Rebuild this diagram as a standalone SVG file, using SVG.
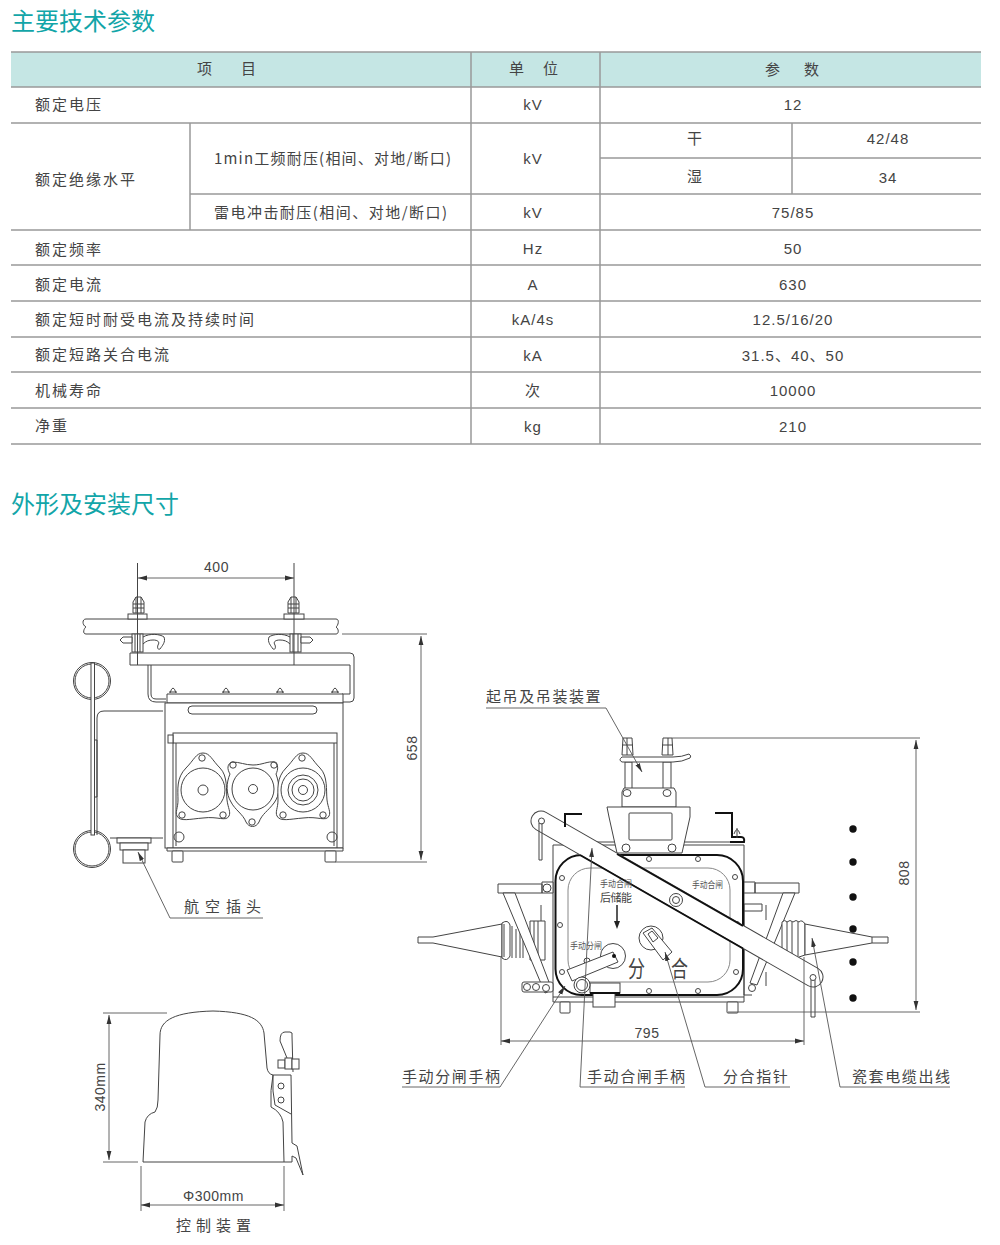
<svg xmlns="http://www.w3.org/2000/svg" width="1000" height="1245" viewBox="0 0 1000 1245">
<style>
text{font-family:"Noto Sans CJK SC","Liberation Sans",sans-serif;fill:#444}
.h{font-size:24px;fill:#12a5a8}
.t{font-size:15px;letter-spacing:2px}
.n{font-family:"Liberation Sans","Noto Sans CJK SC",sans-serif;font-size:15px;text-anchor:middle;letter-spacing:1px}
.d{font-family:"Liberation Sans",sans-serif;font-size:14px;text-anchor:middle;letter-spacing:.5px}
.l{font-size:15px}
.l2{font-size:15px;letter-spacing:1.6px}
.s{font-size:9px;fill:#555}
.tl{stroke:#999;stroke-width:1.5;fill:none}
.o{fill:#fff;stroke:#444;stroke-width:1}
.w{fill:none;stroke:#444;stroke-width:1}
.g{fill:none;stroke:#888;stroke-width:1}
.b{fill:none;stroke:#111;stroke-width:2}
.ln{fill:none;stroke:#555;stroke-width:.9}
.ar{fill:none;stroke:#555;stroke-width:.9;marker-end:url(#a)}
.ar2{fill:none;stroke:#555;stroke-width:.9;marker-start:url(#a2);marker-end:url(#a)}
</style>
<defs>
<marker id="a" markerUnits="userSpaceOnUse" markerWidth="9" markerHeight="6" refX="9" refY="3" orient="auto"><path d="M0,0.6 L9,3 L0,5.4Z" fill="#333"/></marker>
<marker id="a2" markerUnits="userSpaceOnUse" markerWidth="9" markerHeight="6" refX="0" refY="3" orient="auto"><path d="M9,0.6 L0,3 L9,5.4Z" fill="#333"/></marker>
</defs>

<g id="title-params"><text class="h" x="11" y="30">主要技术参数</text></g>

<g id="table">
<rect x="11" y="52" width="970" height="35" fill="#c5e6e4"/>
<path class="tl" d="M11,52H981M11,87H981M11,123H981M11,230H981M11,265H981M11,301H981M11,337H981M11,372H981M11,408H981M11,444H981M190,194H981M600,158H981M471,52V444M600,52V444M190,123V230M792,123V194"/>
<text class="t" x="197" y="74">项<tspan x="241">目</tspan></text>
<text class="t" x="509" y="74">单<tspan x="543">位</tspan></text>
<text class="t" x="765" y="75">参<tspan x="804">数</tspan></text>
<text class="t" x="35" y="110">额定电压</text>
<text class="t" x="35" y="185">额定绝缘水平</text>
<text class="t" x="214" y="164" textLength="237" style="letter-spacing:0">1min工频耐压(相间、对地/断口)</text>
<text class="t" x="214" y="218" textLength="233" style="letter-spacing:0">雷电冲击耐压(相间、对地/断口)</text>
<text class="t" x="35" y="255">额定频率</text>
<text class="t" x="35" y="290">额定电流</text>
<text class="t" x="35" y="325">额定短时耐受电流及持续时间</text>
<text class="t" x="35" y="360">额定短路关合电流</text>
<text class="t" x="35" y="396">机械寿命</text>
<text class="t" x="35" y="431">净重</text>
<text class="n" x="533" y="110">kV</text>
<text class="n" x="533" y="164">kV</text>
<text class="n" x="533" y="218">kV</text>
<text class="n" x="533" y="254">Hz</text>
<text class="n" x="533" y="290">A</text>
<text class="n" x="533" y="325">kA/4s</text>
<text class="n" x="533" y="361">kA</text>
<text class="n" x="533" y="396">次</text>
<text class="n" x="533" y="432">kg</text>
<text class="n" x="793" y="110">12</text>
<text class="n" x="695" y="144">干</text>
<text class="n" x="888" y="144">42/48</text>
<text class="n" x="695" y="182">湿</text>
<text class="n" x="888" y="183">34</text>
<text class="n" x="793" y="218">75/85</text>
<text class="n" x="793" y="254">50</text>
<text class="n" x="793" y="290">630</text>
<text class="n" x="793" y="325">12.5/16/20</text>
<text class="n" x="793" y="361">31.5、40、50</text>
<text class="n" x="793" y="396">10000</text>
<text class="n" x="793" y="432">210</text>
</g>

<g id="title-dims"><text class="h" x="11" y="513">外形及安装尺寸</text></g>

<g id="device-side">
<path class="o" d="M86,619H336C340,619 338,626 336,627C339,629 339,634 336,634H86C82,634 84,628 86,627C82,625 82,619 86,619Z"/>
<g id="bolt-a">
<path class="o" d="M133,613V602L136,597H141L144,602V613Z"/><path class="w" d="M136,597V613M141,597V613M133,604H144M133,608H144"/>
<rect class="o" x="128" y="614" width="19" height="5"/>
</g>
<g id="bolt-b">
<path class="o" d="M288,613V602L291,597H296L299,602V613Z"/><path class="w" d="M291,597V613M296,597V613M288,604H299M288,608H299"/>
<rect class="o" x="284" y="614" width="20" height="5"/>
</g>
<rect class="o" x="132" y="634" width="11" height="18"/><path class="w" d="M135,634V652M140,634V652"/>
<rect class="o" x="290" y="634" width="11" height="18"/><path class="w" d="M293,634V652M298,634V652"/>
<path class="o" d="M120,640L123,637H132V643H123Z"/><path class="o" d="M301,637H310L313,640L310,643H301Z"/>
<path class="w" d="M143,637C150,633 160,634 164,637C166,642 162,646 160,649C158,650 157,648 158,645C160,642 158,640 153,640C149,640 146,641 143,644"/>
<path class="w" d="M290,637C283,633 273,634 269,637C267,642 271,646 273,649C275,650 276,648 275,645C273,642 275,640 280,640C284,640 287,641 290,644"/>
<path class="w" d="M148,665V694Q148,702 156,702H166M151,665V694Q151,699 156,699H166"/>
<path class="o" d="M130,653H350Q354,653 354,657V698Q354,702 350,702H342V694H350V665H130Z"/>
<path class="w" d="M137.500,563V665M294,563V665"/>
<path class="o" d="M167,694H343V703H167Z"/>
<path class="w" d="M170,693Q173,683 176,693M223,693Q226,683 229,693M277,693Q280,683 283,693M332,693Q335,683 338,693"/>
<path class="w" d="M169,692H177M222,692H230M276,692H284M331,692H339"/>
<rect class="o" x="165" y="703" width="178" height="145"/>
<rect class="o" x="188" y="706" width="129" height="8" rx="4"/>
<rect class="o" x="173" y="733" width="164" height="115"/>
<path class="w" d="M173,743H337M176,743V846M334,743V846"/>
<path class="o" d="M167,848H343V851H167Z"/>
<rect class="o" x="168" y="735" width="5" height="8"/>
<g id="flange-a">
<path class="o" d="M203,753C210,753 212,760 220,768C228,776 226,790 227,800C228,808 231,812 229,816C226,822 218,816 203,818C190,819 180,822 177,816C175,812 178,808 178,800C178,790 176,778 186,768C194,760 196,753 203,753Z"/>
<circle class="w" cx="203" cy="790" r="22"/><circle class="w" cx="203" cy="790" r="5"/>
<circle class="w" cx="202" cy="758" r="3.200"/><circle class="w" cx="182" cy="815" r="3.200"/><circle class="w" cx="223" cy="815" r="3.200"/>
</g>
<g id="flange-b">
<path class="o" d="M232,762C240,762 245,765 253,765C262,765 268,761 274,762C279,764 278,770 276,774C280,785 280,795 274,803C268,811 262,814 259,822C256,828 249,828 246,822C243,814 235,810 231,802C226,794 226,783 230,774C227,769 227,764 232,762Z"/>
<circle class="w" cx="253" cy="789" r="21"/><circle class="w" cx="253" cy="789" r="4.500"/>
<circle class="w" cx="233" cy="765" r="3.200"/><circle class="w" cx="274" cy="765" r="3.200"/><circle class="w" cx="252" cy="822" r="3.200"/>
</g>
<g id="flange-c">
<path class="o" d="M303,753C310,753 312,760 320,768C328,776 326,790 327,800C328,808 331,812 329,816C326,822 318,816 303,818C290,819 280,822 277,816C275,812 278,808 278,800C278,790 276,778 286,768C294,760 296,753 303,753Z"/>
<circle class="w" cx="303" cy="790" r="22"/><circle class="w" cx="303" cy="790" r="15"/><circle class="w" cx="303" cy="790" r="11"/><circle class="w" cx="303" cy="790" r="4.500"/>
<circle class="w" cx="302" cy="758" r="3.200"/><circle class="w" cx="283" cy="815" r="3.200"/><circle class="w" cx="323" cy="815" r="3.200"/>
</g>
<circle class="w" cx="179" cy="837" r="5"/><circle class="w" cx="332" cy="837" r="5"/>
<rect class="o" x="172" y="851" width="11" height="11" rx="1"/><rect class="o" x="325" y="851" width="11" height="11" rx="1"/>
<circle class="w" cx="92" cy="681" r="18.500"/><circle class="w" cx="92" cy="681" r="17"/>
<circle class="w" cx="92" cy="849" r="18.500"/><circle class="w" cx="92" cy="849" r="17"/>
<rect class="o" x="91" y="663" width="3.500" height="172"/>
<path class="w" d="M163,711H104Q97,711 97,718V835M110,838H163M95,740H97V797H95"/>
<rect class="o" x="117" y="838" width="34" height="5"/><rect class="o" x="120" y="843" width="28" height="7"/><rect class="o" x="123" y="850" width="22" height="13"/>
</g>

<g id="cover">
<path class="o" d="M143,1162L145,1122Q147,1114 155,1112Q158,1108 158,1100L160,1035C160,1020 175,1012 213,1011C250,1012 262,1020 264,1033L267,1068Q268,1074 273,1075Q270,1090 271,1107Q281,1112 283,1122L284,1162Z"/>
<path class="w" d="M273,1075H291M273,1075Q272,1092 275,1105L291,1114M291,1075L292,1143L297,1146L303,1175L296,1158L292,1156L292,1162H284"/>
<path class="w" d="M280,1041Q280,1032 285,1032H290Q293,1032 292,1036L293,1072M280,1041L287,1058"/>
<circle class="w" cx="281" cy="1086" r="3"/><circle class="w" cx="281" cy="1100" r="3"/>
<rect class="o" x="278" y="1060" width="7" height="8"/><rect class="o" x="285" y="1058" width="7" height="11"/><rect class="o" x="292" y="1059" width="7" height="10"/>
</g>

<g id="device-front">
<path class="w" d="M592,842H617M682,842H744"/>
<path class="o" d="M553,845H744V1002H553Z"/>
<path class="w" d="M553,997H744"/>
<rect class="o" x="560" y="1002" width="10" height="11" rx="1"/><rect class="o" x="727" y="1002" width="11" height="11" rx="1"/>
<g id="insulator-left">
<path class="o" d="M498,884H542V893H498ZM542,882H553V893H542Z"/><circle class="w" cx="547" cy="888" r="4"/>
<path class="o" d="M418,937H433L502,924V957L433,943H418Z"/>
<path class="o" d="M502,923Q508,919 510,925V956Q507,962 502,958Z"/>
<path class="w" d="M512,926V958M516,929V958M520,926V958M523,930V958M504,924V957"/>
<path class="o" d="M530,921H545V960H530Z"/><path class="w" d="M534,921V960M538,921V960M541,905V921"/>
<path class="o" d="M503,893H515L552,990L545,993Z"/>
<rect class="o" x="522" y="982" width="31" height="10" rx="2"/><circle class="w" cx="527" cy="987" r="3.500"/><circle class="w" cx="536" cy="987" r="3.500"/><circle class="w" cx="546" cy="988" r="3.500"/>
</g>
<g id="insulator-right">
<path class="o" d="M744,882H755V893H744ZM755,883H799V893H755Z"/>
<path class="o" d="M783,893H795L757,985L750,983Z"/>
<path class="o" d="M744,904H762V911H744Z"/><path class="w" d="M744,904V995H752M766,905V920M766,972V986"/>
<path class="o" d="M782,922Q785,919 787,922Q790,919 793,922Q796,919 799,922Q802,919 805,924V955L796,958L782,951Z"/>
<path class="w" d="M787,922V951M792,922V955M798,922V956"/>
<path class="o" d="M805,924L872,937H888V943H872L805,955Z"/><path class="w" d="M872,937V943"/>
<circle class="w" cx="752" cy="988" r="3.500"/>
</g>
<rect x="555.500" y="855" width="187.500" height="140" rx="26" fill="#fff" stroke="#111" stroke-width="2"/>
<rect class="g" x="568" y="868" width="162" height="114" rx="22"/>
<g id="holes">
<circle class="w" cx="562" cy="878" r="2.500"/><circle class="w" cx="560" cy="925" r="2.500"/><circle class="w" cx="562" cy="972" r="2.500"/>
<circle class="w" cx="649" cy="859" r="2.500"/><circle class="w" cx="698" cy="859" r="2.500"/><circle class="w" cx="735" cy="877" r="2.500"/><circle class="w" cx="737" cy="924" r="2.500"/><circle class="w" cx="736" cy="972" r="2.500"/><circle class="w" cx="649" cy="991" r="2.500"/><circle class="w" cx="698" cy="991" r="2.500"/>
</g>
<rect class="o" x="590" y="983" width="30" height="10"/>
<rect class="o" x="593" y="993" width="22" height="14"/>
<path d="M590,993H620" stroke="#111" stroke-width="2"/>
<path d="M617,905V923" stroke="#222" stroke-width="1.500"/><path d="M614,921H620L617,929Z" fill="#222"/>
<circle class="w" cx="613" cy="956" r="12.500"/>
<circle class="w" cx="587" cy="961" r="3"/>
<path class="o" d="M567,970L613,952L618,962L572,981Z"/>
<circle cx="614" cy="956" r="2" fill="#111"/>
<circle class="o" cx="582" cy="985" r="8"/><circle class="w" cx="582" cy="985" r="5.500"/>
<circle class="w" cx="651" cy="938" r="12"/>
<path class="o" d="M643,933L652,928L672,952L663,960Z"/><path class="w" d="M648,934L652,931L658,938L653,942Z"/>
<text font-size="20" transform="translate(628,977) scale(.85,1.150)">分</text>
<text font-size="20" transform="translate(671,977) scale(.85,1.150)">合</text>
<g id="bar">
<path d="M541,821L813,977" fill="none" stroke="#444" stroke-width="21" stroke-linecap="round"/>
<path d="M541,821L813,977" fill="none" stroke="#fff" stroke-width="19" stroke-linecap="round"/>
<path d="M617,854L743,926M580,855L743,948.500" stroke="#111" stroke-width="2" fill="none"/>
<circle class="w" cx="541.500" cy="821" r="3"/><circle class="w" cx="813" cy="977.500" r="3"/>
<path class="w" d="M539,823V860H542V823M811,980V1017H815V980"/>
<circle class="o" cx="676" cy="900" r="6.500"/><circle class="w" cx="676" cy="900" r="3.500"/>
</g>
<text class="s" x="600" y="887" textLength="32" lengthAdjust="spacingAndGlyphs">手动合闸</text>
<text x="600" y="902" font-size="11" textLength="32">后储能</text>
<text class="s" x="692" y="888" textLength="31" lengthAdjust="spacingAndGlyphs">手动合闸</text>
<text class="s" x="570" y="949" textLength="32" lengthAdjust="spacingAndGlyphs">手动分闸</text>
<path class="b" d="M582,814H565V827M715,813H732V838"/>
<path class="b" d="M730,842H744Q745,837 741,837H733"/>
<path class="w" d="M737,828V838M734,834Q737,825 740,834"/>
<g id="lift">
<path class="o" d="M625,762H632V790H625ZM663,762H671V790H663Z"/>
<path class="o" d="M623,738H632L633,755H622ZM663,738H672L673,755H662Z"/><path class="w" d="M627,738V755M668,738V755M622,745H633M662,745H673"/>
<path class="o" d="M622,757H673Q682,757 689,754Q692,756 690,758Q682,762 673,762H622Q618,760 622,757Z"/>
<path class="o" d="M624,788H674L676,792V807H622V792Z"/>
<ellipse class="w" cx="627" cy="793" rx="4" ry="3.500"/><ellipse class="w" cx="667" cy="793" rx="4" ry="3.500"/>
<path class="o" d="M607,807H690V817L682,853H617L609,817Z"/>
<rect class="w" x="629" y="813" width="43" height="27" rx="1"/>
<circle class="w" cx="626" cy="848" r="4"/><circle class="w" cx="672" cy="848" r="4"/>
</g>
</g>

<g id="connectors">
<path class="ln" d="M486,708H606"/><path class="ar" d="M606,708L642,772"/>
<path class="ln" d="M402,1087H500"/><path class="ar" d="M500,1087L565,986"/>
<path class="ln" d="M580,1087H685"/><path class="ar" d="M580,1087L592,848"/>
<path class="ln" d="M705,1087H790"/><path class="ar" d="M705,1087L665,952"/>
<path class="ln" d="M840,1087H950"/><path class="ar" d="M840,1087L812,938"/>
<path class="ln" d="M170,918H263"/><path class="ar" d="M170,918L138,852"/>
<path class="ln" d="M342,634H427M335,862H427"/><path class="ar2" d="M421,636V860"/>
<path class="ar2" d="M138,578H294"/>
<path class="ln" d="M672,738H920M728,1012H920"/><path class="ar2" d="M916,740V1010"/>
<path class="ln" d="M501,957V1045M804,957V1045"/><path class="ar2" d="M501,1041H804"/>
<path class="ln" d="M103,1013H167M103,1162H138"/><path class="ar2" d="M109,1015V1160"/>
<path class="ln" d="M141,1166V1211M284,1166V1211"/><path class="ar2" d="M141,1205H284"/>
</g>

<g id="dots" fill="#111">
<circle cx="853" cy="829" r="3.700"/><circle cx="853" cy="862" r="3.700"/><circle cx="853" cy="897" r="3.700"/><circle cx="853" cy="929" r="3.700"/><circle cx="853" cy="962" r="3.700"/><circle cx="853" cy="998" r="3.700"/>
</g>

<g id="labels">
<text class="d" x="216.500" y="572">400</text>
<text class="d" transform="translate(417,748) rotate(-90)">658</text>
<text class="d" transform="translate(909,873) rotate(-90)">808</text>
<text class="d" x="647" y="1038">795</text>
<text class="d" transform="translate(105,1087) rotate(-90)">340mm</text>
<text class="d" x="213.500" y="1201">Φ300mm</text>
<text class="l" x="184" y="912">航<tspan x="205">空</tspan><tspan x="226">插</tspan><tspan x="246">头</tspan></text>
<text class="l" x="176" y="1231">控<tspan x="196">制</tspan><tspan x="216">装</tspan><tspan x="236">置</tspan></text>
<text class="l2" x="486" y="702">起吊及吊装装置</text>
<text class="l2" x="402" y="1082">手动分闸手柄</text>
<text class="l2" x="587" y="1082">手动合闸手柄</text>
<text class="l2" x="723" y="1082">分合指针</text>
<text class="l2" x="852" y="1082">瓷套电缆出线</text>
</g>
</svg>
